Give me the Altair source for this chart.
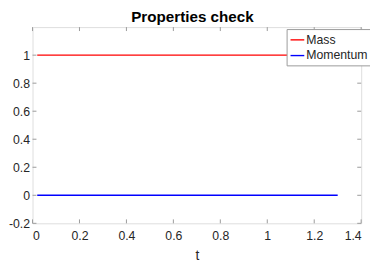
import altair as alt
import pandas as pd

t_values = [0.02, 1.3]
mass = [1.0, 1.0]
momentum = [0.0, 0.0]
series_names = ["Mass", "Momentum"]
series_colors = ["#ff0000", "#0000ff"]
x_ticks = [0, 0.2, 0.4, 0.6, 0.8, 1.0, 1.2, 1.4]
y_ticks = [-0.2, 0, 0.2, 0.4, 0.6, 0.8, 1.0]
title_text = ["Properties check"]

rows = []
for t, v in zip(t_values, mass):
    rows.append({"t": t, "value": v, "series": "Mass"})
for t, v in zip(t_values, momentum):
    rows.append({"t": t, "value": v, "series": "Momentum"})
df = pd.DataFrame(rows)

W, H = 335, 200
FONT = "Liberation Sans"
TXT = "#262626"
AX = "#9a9a9a"

xscale = alt.Scale(domain=[0, 1.4], nice=False, zero=False)
yscale = alt.Scale(domain=[-0.2, 1.2], nice=False, zero=False)
lab = "datum.value < 0 ? '-' + format(-datum.value, '~g') : format(datum.value, '~g')"

xaxis = alt.Axis(values=x_ticks, labelExpr=lab, grid=False, tickSize=0,
                 domain=False, labelPadding=7, labelFontSize=12.5,
                 labelColor=TXT, titleColor=TXT, titleFontSize=14,
                 titleFontWeight="normal", titlePadding=6, labelFont=FONT,
                 titleFont=FONT, title="t")
yaxis = alt.Axis(values=y_ticks, labelExpr=lab, grid=False, tickSize=0,
                 domain=False, labelPadding=3, labelFontSize=12.5,
                 labelColor=TXT, labelFont=FONT, title=None)

lines = alt.Chart(df).mark_line(strokeWidth=1.4).encode(
    x=alt.X("t:Q", scale=xscale, axis=xaxis),
    y=alt.Y("value:Q", scale=yscale, axis=yaxis),
    color=alt.Color("series:N",
                    scale=alt.Scale(domain=series_names, range=series_colors),
                    legend=alt.Legend(title=None, orient="none", legendX=259, legendY=2,
                                      symbolType="stroke", symbolSize=196,
                                      symbolStrokeWidth=1.4, labelFontSize=12.5,
                                      labelFont=FONT, labelColor=TXT,
                                      fillColor="white", strokeColor=AX, padding=3,
                                      rowPadding=1, labelOffset=1, symbolOffset=0)),
)

xt = pd.DataFrame({"t": x_ticks})
yt = pd.DataFrame({"value": y_ticks})

bot = alt.Chart(xt).mark_rule(color=AX, strokeWidth=1).encode(
    x=alt.X("t:Q", scale=xscale, axis=xaxis), y=alt.value(H), y2=alt.value(H - 4))
top = alt.Chart(xt).mark_rule(color=AX, strokeWidth=1).encode(
    x=alt.X("t:Q", scale=xscale, axis=xaxis), y=alt.value(0), y2=alt.value(4))
left = alt.Chart(yt).mark_rule(color=AX, strokeWidth=1).encode(
    y=alt.Y("value:Q", scale=yscale, axis=yaxis), x=alt.value(0), x2=alt.value(4))
right = alt.Chart(yt).mark_rule(color=AX, strokeWidth=1).encode(
    y=alt.Y("value:Q", scale=yscale, axis=yaxis), x=alt.value(W), x2=alt.value(W - 4))

title = alt.Chart(pd.DataFrame({"label": title_text})).mark_text(
    font=FONT, fontSize=15.5, fontWeight="bold",
    align="center", baseline="alphabetic").encode(
    text="label:N", x=alt.value(163), y=alt.value(-5))

chart = alt.layer(lines, bot, top, left, right, title).properties(
    width=W, height=H,
    autosize=alt.AutoSizeParams(type="none"),
    padding={"left": 25, "top": 17, "right": 9, "bottom": 40},
).configure_view(stroke=AX, strokeWidth=1).configure(background="white")

chart.save("out.html", embed_options={"renderer": "svg", "actions": False})
